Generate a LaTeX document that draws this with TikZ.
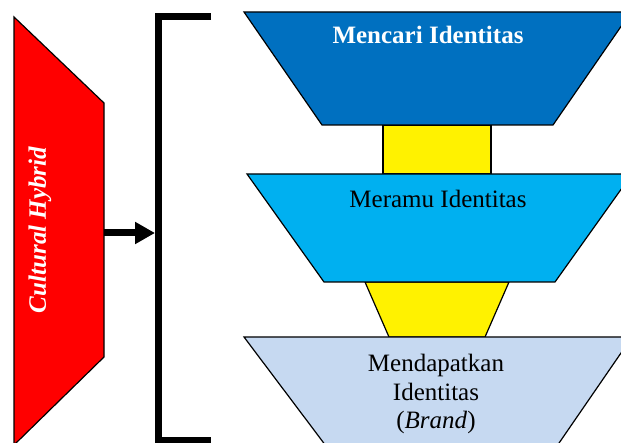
\documentclass[tikz,border=0pt]{standalone}
\usepackage{fontspec}
\setmainfont{Liberation Serif}
\usepackage{xcolor}
\usetikzlibrary{arrows.meta}
\definecolor{stageone}{HTML}{0070C0}
\definecolor{stagetwo}{HTML}{00B0F0}
\definecolor{stagethree}{HTML}{C6D9F1}

\begin{document}
\begin{tikzpicture}[x=1pt,y=-1pt,
    stage/.style={draw=black,line width=1.2pt},
    label/.style={inner sep=0pt,font=\fontsize{25}{28.5}\selectfont}]
  \clip (0,0) rectangle (621,443);
  % left block
  \draw[stage,fill=red] (14,17) -- (104,103) -- (104,357) -- (14,445) -- cycle;
  \node[inner sep=0pt,rotate=90,text=white,
    font=\fontsize{25}{28.5}\selectfont\bfseries\itshape] (hybrid) at (40,230) {Cultural Hybrid};
  % bracket
  \draw[line width=7pt] (211,17) -- (158,17) -- (158,440) -- (211,440);
  \coordinate (hybrid-out) at (104,233);
  \coordinate (bracket-in) at (155,233);
  \draw[-{Triangle[length=20pt,width=21pt]},line width=7pt] (hybrid-out) -- (bracket-in);
  % links between stages
  \draw[stage,fill=yellow] (383,125) rectangle (491,174);
  \draw[stage,fill=yellow] (365,282) -- (509,282) -- (485,337) -- (389,337) -- cycle;
  % stages
  \draw[stage,fill=stageone] (244,12) -- (631,12) -- (553,125) -- (322,125) -- cycle;
  \draw[stage,fill=stagetwo] (247,174) -- (632,174) -- (555,282) -- (324,282) -- cycle;
  \draw[stage,fill=stagethree] (244,337) -- (632,337) -- (557,446) -- (326,446) -- cycle;
  \node[label,text=white,font=\fontsize{25}{28.5}\selectfont\bfseries] (mencari) at (428,34.5) {Mencari Identitas};
  \node[label] (meramu) at (438,198.5) {Meramu Identitas};
  \node[label,align=center] (brand) at (436,394) {Mendapatkan\\Identitas\\(\textit{Brand})};
\end{tikzpicture}
\end{document}
